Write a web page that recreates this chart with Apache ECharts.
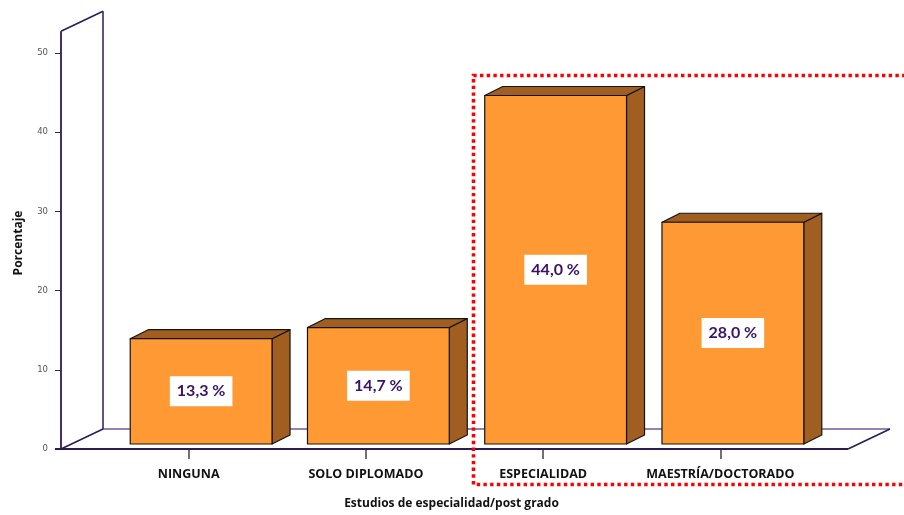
<!DOCTYPE html>
<html>
<head>
<meta charset="utf-8">
<title>Estudios de especialidad/post grado</title>
<script src="https://cdn.jsdelivr.net/npm/echarts@6/dist/echarts.min.js"></script>
<style>
  html, body { margin: 0; padding: 0; background: #fff; }
  #chart { width: 904px; height: 515px; }
</style>
</head>
<body>
<div id="chart"></div>
<script>
// Categories and percentages
const categories = ['NINGUNA', 'SOLO DIPLOMADO', 'ESPECIALIDAD', 'MAESTRÍA/DOCTORADO'];
const percentages = [13.3, 14.7, 44.0, 28.0];
// Value axis range and step
const yMin = 0;
const yMax = 50;
const yStep = 10;
// Height the back wall reaches
const wallTop = 52.75;
// Categories enclosed by the dotted highlight box
const highlighted = [2, 3];

const FRONT = '#ff9933';
const SHADE = '#a05f20';
const EDGE = '#141414';
const FRAME = '#2e1a55';
const FLOOR_BACK = '#6f5a98';
const WALL_DX = 42, WALL_DY = -20;   // depth of the floor/wall box
const BAR_DX = 18, BAR_DY = -9;      // depth of each bar
const SIDE_PAD = 39;                 // front plane extends past the category band

function fmt(v) {
  return v.toFixed(1).replace('.', ',') + ' %';
}

function renderFrame(params, api) {
  const cs = params.coordSys;
  const xL = cs.x - SIDE_PAD;
  const xR = cs.x + cs.width + SIDE_PAD;
  const y0 = api.coord([0, yMin])[1];
  const yT = api.coord([0, wallTop])[1];
  const line = (x1, y1, x2, y2, color, w) => ({
    type: 'line',
    shape: { x1, y1, x2, y2 },
    style: { stroke: color, lineWidth: w }
  });
  return {
    type: 'group',
    children: [
      line(xL + WALL_DX, y0 + WALL_DY, xR + WALL_DX, y0 + WALL_DY, FLOOR_BACK, 1.5),
      line(xL + WALL_DX, y0 + WALL_DY, xL + WALL_DX, yT + WALL_DY, FRAME, 1.5),
      line(xL, yT, xL + WALL_DX, yT + WALL_DY, FRAME, 1.5),
      line(xL, y0, xL, yT, FRAME, 1.8),
      line(xL, y0, xL + WALL_DX, y0 + WALL_DY, FRAME, 1.5),
      line(xL - 6, y0, xR, y0, FRAME, 1.8),
      line(xR, y0, xR + WALL_DX, y0 + WALL_DY, FRAME, 1.5)
    ]
  };
}

function barGeom(api, idx, val) {
  const base = api.coord([idx, yMin]);
  const top = api.coord([idx, val]);
  const bw = api.size([1, 0])[0] * 0.8;
  const cx = base[0] + 12.5;
  return {
    fl: cx - bw / 2, fr: cx + bw / 2,
    fb: base[1] - 5, ft: top[1] - 5, cx
  };
}

function renderBar(params, api) {
  const idx = api.value(0);
  const val = api.value(1);
  const g = barGeom(api, idx, val);
  const { fl, fr, fb, ft, cx } = g;
  const edge = { stroke: EDGE, lineWidth: 1.2, lineJoin: 'round' };
  return {
    type: 'group',
    children: [
      {
        type: 'polygon',
        shape: { points: [[fr, ft], [fr + BAR_DX, ft + BAR_DY], [fr + BAR_DX, fb + BAR_DY], [fr, fb]] },
        style: Object.assign({ fill: SHADE }, edge)
      },
      {
        type: 'polygon',
        shape: { points: [[fl, ft], [fl + BAR_DX, ft + BAR_DY], [fr + BAR_DX, ft + BAR_DY], [fr, ft]] },
        style: Object.assign({ fill: SHADE }, edge)
      },
      {
        type: 'rect',
        shape: { x: fl, y: ft, width: fr - fl, height: fb - ft },
        style: Object.assign({ fill: FRONT }, edge)
      },
      {
        type: 'text',
        x: cx,
        y: (ft + fb) / 2,
        style: {
          text: fmt(val),
          align: 'center',
          verticalAlign: 'middle',
          fill: '#3a1268',
          fontFamily: 'Lato',
          fontWeight: 'bold',
          fontSize: 16,
          backgroundColor: '#ffffff',
          padding: [7, 7, 7, 7]
        }
      }
    ]
  };
}

function renderHighlight(params, api) {
  const cs = params.coordSys;
  const bandW = api.size([1, 0])[0];
  const first = highlighted[0];
  const maxVal = Math.max.apply(null, highlighted.map(i => percentages[i]));
  const left = api.coord([first, yMin])[0] - bandW / 2 + 19;
  const g = barGeom(api, first, maxVal);
  const top = g.ft + BAR_DY - 11;
  const bottom = api.coord([first, yMin])[1] + 35.5;
  const right = cs.x + cs.width + 130;
  return {
    type: 'polyline',
    shape: { points: [[right, top], [left, top], [left, bottom], [right, bottom]] },
    style: { stroke: '#ff0000', lineWidth: 3.6, lineDash: [3.4, 3.3], fill: null, lineCap: 'butt' }
  };
}

const chart = echarts.init(document.getElementById('chart'), null, { renderer: 'canvas' });

chart.setOption({
  backgroundColor: '#ffffff',
  animation: false,
  grid: { left: 100, right: 95, top: 53, bottom: 62, containLabel: false },
  xAxis: {
    type: 'category',
    data: categories,
    name: 'Estudios de especialidad/post grado',
    nameLocation: 'middle',
    nameGap: 49,
    nameTextStyle: { fontFamily: 'Open Sans', fontWeight: 'bold', fontSize: 12, color: '#111', padding: [0, 6, 0, 0] },
    axisLine: { show: false },
    axisTick: { show: true, alignWithLabel: true, interval: 0, length: 10, lineStyle: { color: '#444', width: 1.5 } },
    axisLabel: { interval: 0, margin: 19, fontFamily: 'Open Sans', fontWeight: 'bold', fontSize: 12.5, color: '#111' },
    splitLine: { show: false }
  },
  yAxis: {
    type: 'value',
    min: yMin,
    max: yMax,
    interval: yStep,
    offset: 39,
    name: 'Porcentaje',
    nameLocation: 'middle',
    nameRotate: 90,
    nameGap: 36,
    nameTextStyle: { fontFamily: 'Open Sans', fontWeight: 'bold', fontSize: 12, color: '#111', padding: [0, 0, 0, 16] },
    axisLine: { show: false },
    axisTick: { show: true, length: 6, lineStyle: { color: '#333', width: 1 } },
    axisLabel: { margin: 13, fontFamily: 'DejaVu Sans', fontSize: 8.5, color: '#555' },
    splitLine: { show: false }
  },
  series: [
    {
      type: 'custom',
      name: 'frame',
      renderItem: renderFrame,
      data: [[0, yMin]],
      z: 1,
      silent: true
    },
    {
      type: 'custom',
      name: 'Porcentaje',
      renderItem: renderBar,
      data: percentages.map((v, i) => [i, v]),
      encode: { x: 0, y: 1 },
      z: 2
    },
    {
      type: 'custom',
      name: 'highlight',
      renderItem: renderHighlight,
      data: [[highlighted[0], yMin]],
      z: 3,
      silent: true
    }
  ]
});
</script>
</body>
</html>
